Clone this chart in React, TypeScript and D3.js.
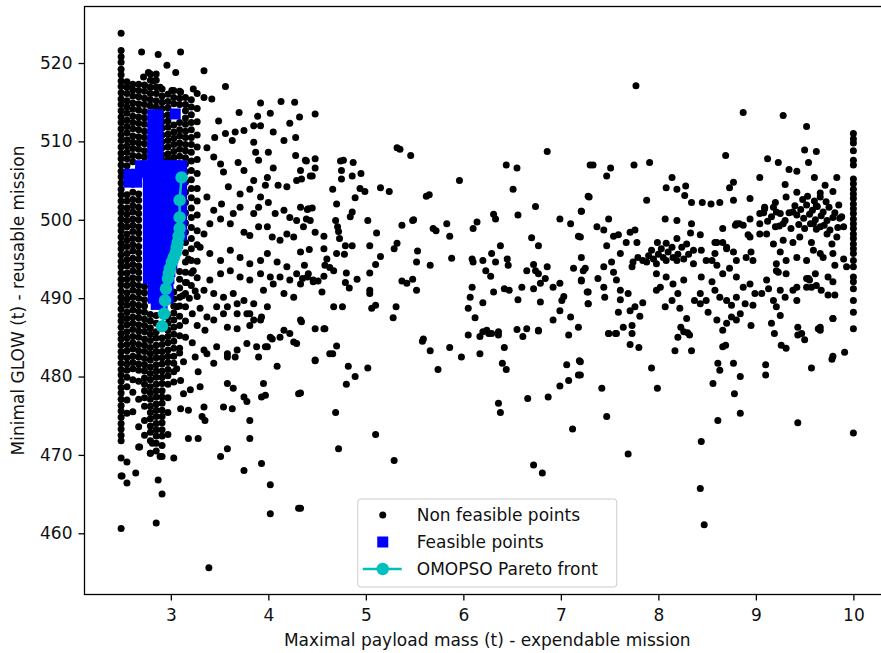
import React, { useEffect, useRef } from 'react';
import * as d3 from 'd3';

type Pt = [number, number];

const xTicks = [3, 4, 5, 6, 7, 8, 9, 10];
const yTicks = [460, 470, 480, 490, 500, 510, 520];
const xLabel = 'Maximal payload mass (t) - expendable mission';
const yLabel = 'Minimal GLOW (t) - reusable mission';
const legendLabels = ['Non feasible points', 'Feasible points', 'OMOPSO Pareto front'];

// dense columns of non feasible points close to the lower payload bound
const coreX = [2.49, 2.55, 2.61, 2.67, 2.73, 2.79, 2.85, 2.91, 2.97, 3.03, 3.09, 3.15, 3.21, 3.27];
const coreY: number[][] = [
  [523.8, 521.6, 520.8, 520.1, 519.2, 518.5, 517.7, 517.0, 516.2, 515.4, 514.7, 513.9, 513.1, 512.4, 511.6, 510.8, 510.1, 509.3, 508.5, 507.8, 507.0, 506.2, 505.5, 504.7, 503.9, 503.2, 502.4, 501.6, 500.9, 500.1, 499.3, 498.6, 497.8, 497.0, 496.3, 495.5, 494.7, 494.0, 493.2, 492.4, 491.7, 490.9, 490.1, 489.4, 488.6, 487.8, 487.1, 486.3, 485.5, 484.8, 484.0, 483.2, 482.5, 481.7, 480.9, 480.2, 479.4, 478.6, 477.9, 477.1, 476.3, 475.6, 474.8, 474.0, 473.3, 472.5, 471.8, 469.6, 467.3, 460.6],
  [517.6, 516.9, 516.1, 515.2, 514.4, 513.6, 512.7, 511.9, 511.1, 510.2, 509.4, 508.6, 507.8, 506.9, 503.2, 502.4, 501.5, 500.7, 499.9, 499.1, 498.2, 497.4, 496.6, 495.7, 494.9, 494.1, 493.2, 492.4, 491.6, 490.7, 489.9, 489.1, 488.2, 487.4, 486.6, 485.7, 484.9, 484.1, 483.3, 482.4, 481.6, 480.8, 479.9, 478.7, 477.0, 475.3, 469.1, 466.4],
  [517.3, 516.6, 515.8, 514.9, 514.1, 513.2, 512.4, 511.6, 510.7, 509.9, 509.1, 508.2, 507.4, 503.5, 502.6, 501.8, 501.0, 500.1, 499.3, 498.5, 497.6, 496.8, 496.0, 495.1, 494.3, 493.5, 492.6, 491.8, 491.0, 490.1, 489.3, 488.5, 487.6, 486.8, 486.0, 485.1, 484.3, 483.5, 482.6, 481.8, 481.0, 479.6, 478.0, 475.5],
  [517.3, 516.5, 515.7, 514.8, 514.0, 513.1, 512.3, 511.5, 510.6, 509.8, 509.0, 508.1, 503.3, 502.5, 501.6, 500.8, 500.0, 499.1, 498.3, 497.5, 496.6, 495.8, 495.0, 494.1, 493.3, 492.5, 491.6, 490.8, 490.0, 489.1, 488.3, 487.5, 486.6, 485.8, 485.0, 484.1, 483.3, 482.5, 481.6, 480.8, 479.4, 477.1, 473.6, 471.0],
  [517.2, 516.4, 515.5, 514.7, 513.8, 513.0, 512.2, 511.3, 510.5, 509.7, 508.8, 508.0, 491.5, 490.7, 489.8, 489.0, 488.2, 487.3, 486.5, 485.7, 484.8, 484.0, 483.2, 482.3, 481.5, 480.7, 479.8, 479.0, 478.2, 477.3, 476.2, 474.4, 472.5],
  [518.6, 517.8, 516.9, 516.1, 515.3, 514.5, 487.9, 487.1, 486.2, 485.4, 484.6, 483.7, 482.9, 482.1, 481.2, 480.4, 479.6, 478.7, 477.9, 477.1, 476.2, 475.4, 474.6, 473.7, 472.9, 471.8, 470.2],
  [518.6, 517.8, 516.9, 516.1, 515.2, 514.4, 487.8, 486.8, 485.7, 484.9, 484.0, 483.2, 482.4, 481.5, 480.7, 479.9, 479.0, 478.2, 477.4, 476.5, 475.7, 474.9, 474.0, 473.2, 472.4, 471.5, 470.5],
  [516.7, 515.8, 515.0, 514.2, 513.3, 512.5, 511.7, 510.8, 510.0, 509.2, 508.3, 507.6, 484.9, 484.1, 483.2, 482.4, 481.6, 480.7, 479.9, 479.1, 478.2, 477.4, 476.6, 475.7, 474.9, 474.1, 473.2, 472.4, 471.2, 469.8],
  [516.0, 515.1, 514.3, 513.4, 512.6, 511.8, 510.9, 510.1, 509.3, 508.4, 507.7, 487.6, 486.8, 485.9, 485.1, 484.3, 483.4, 482.6, 481.8, 480.9, 480.1, 479.0, 477.3, 475.4, 472.6],
  [516.5, 515.6, 514.8, 512.1, 511.2, 510.4, 509.6, 508.7, 507.9, 490.8, 489.9, 489.0, 488.1, 487.2, 486.3, 485.4, 484.5, 483.6, 482.6, 481.7, 480.6, 479.3],
  [516.4, 515.5, 514.7, 512.4, 511.5, 510.7, 509.8, 509.0, 508.1, 493.4, 492.4, 491.3, 490.1, 489.0, 487.7, 486.5, 485.2, 483.6],
  [515.6, 514.7, 513.9, 513.0, 512.2, 511.3, 510.5, 509.6, 508.8, 507.9, 507.1, 506.1, 504.8, 503.5, 502.2, 500.9, 499.6, 498.4, 497.1, 495.8, 494.6, 493.3, 492.0, 490.6, 488.9, 487.1],
  [515.3, 514.4, 513.4, 512.4, 511.5, 510.5, 509.6, 508.6, 507.5, 506.3, 505.1, 504.0, 502.8, 501.5, 500.3, 499.0, 497.6, 496.3, 494.8, 493.2, 491.6],
  [514.2, 512.5, 510.8, 509.3, 507.7, 505.9, 504.0, 502.4, 500.6, 498.6, 496.8, 494.7, 492.6, 490.2],
];

// non feasible points sitting on the upper payload bound (x = 10)
const upperBoundY = [511.0, 510.3, 509.8, 508.8, 507.6, 507.0, 505.2, 504.6, 503.9, 503.3, 502.7, 502.0, 501.4, 500.8, 500.1, 499.5, 498.9, 498.2, 497.6, 496.9, 496.3, 495.7, 494.8, 494.0, 492.7, 492.1, 491.2, 489.7, 488.2, 486.1, 472.8];

const nearCore: Pt[] = [
  [2.70, 521.4], [2.87, 521.1], [3.10, 521.4], [2.96, 519.7], [2.77, 518.8], [3.05, 518.8], [2.72, 518.2], [2.82, 517.7], [2.89, 516.9], [3.01, 516.5], [3.10, 516.3], [3.23, 516.7], [3.27, 516.1],
  [3.34, 519.0], [3.56, 517.0], [3.34, 515.6], [3.42, 515.4], [3.92, 514.9], [4.13, 515.1], [4.27, 515.0], [3.70, 513.7], [4.02, 513.6], [3.89, 513.2], [4.32, 513.1], [4.48, 513.5],
  [4.22, 512.3], [4.16, 510.1], [4.28, 510.5], [4.05, 511.2], [3.85, 512.0], [3.92, 512.0], [3.75, 511.4], [3.66, 511.2], [3.63, 510.1], [3.56, 511.0], [3.49, 512.6], [3.45, 510.5],
  [4.00, 508.6], [3.85, 509.9], [3.87, 508.6], [3.90, 507.6], [4.05, 506.6], [4.28, 508.2], [4.39, 507.5], [4.48, 507.8], [4.33, 506.3], [4.43, 505.6], [4.29, 505.0], [4.19, 504.2],
  [4.10, 504.4], [3.99, 505.4], [3.97, 504.4], [3.85, 505.0], [3.81, 503.9], [3.71, 503.3], [3.59, 504.2], [3.54, 506.1], [3.51, 507.1], [3.69, 507.3], [3.75, 506.3], [3.44, 508.0], [3.37, 509.2],
  [4.00, 502.2], [3.92, 502.9], [3.90, 501.6], [3.85, 500.8], [3.71, 501.6], [3.64, 500.8], [3.52, 502.0], [3.44, 501.2], [3.37, 502.9], [4.07, 500.8], [4.16, 501.2], [4.22, 500.3],
  [4.29, 499.9], [4.36, 499.1], [4.43, 499.9], [4.41, 501.4], [4.33, 501.6], [4.48, 498.4], [4.26, 497.8], [4.19, 498.2], [4.12, 497.4], [4.04, 497.8], [3.99, 499.1], [3.90, 499.1],
  [3.81, 498.0], [3.75, 498.4], [3.61, 499.5], [3.51, 500.1], [3.40, 499.5], [3.34, 498.2],
  [3.30, 496.5], [3.40, 495.7], [3.51, 494.8], [3.61, 496.1], [3.71, 495.2], [3.81, 494.4], [3.92, 494.8], [3.99, 495.7], [4.09, 494.6], [4.19, 494.0], [4.29, 493.1], [4.40, 492.7],
  [4.46, 492.3], [4.33, 491.8], [4.22, 492.3], [4.12, 492.7], [4.02, 492.7], [3.92, 493.1], [3.81, 492.3], [3.71, 492.7], [3.61, 493.5], [3.51, 493.1], [3.40, 492.3], [3.34, 491.0],
  [3.44, 490.6], [3.54, 490.1], [3.64, 490.6], [3.75, 489.7], [3.85, 489.3], [3.95, 491.0], [4.05, 491.8], [4.16, 490.6], [4.26, 490.1], [3.99, 488.9], [3.81, 488.0], [3.68, 488.0],
  [3.54, 488.0], [3.44, 487.2], [3.35, 485.9], [3.58, 486.3], [3.68, 486.1], [3.81, 486.5], [3.92, 487.2], [4.16, 485.9], [4.22, 485.5], [4.12, 485.0], [4.04, 484.8], [3.99, 483.8],
  [3.88, 483.8], [3.78, 484.2], [3.68, 483.4], [3.58, 482.9], [3.47, 483.8], [3.37, 482.9], [4.33, 487.2], [4.48, 486.1], [4.29, 484.2], [3.90, 482.5],
  [3.18, 495.0], [3.23, 493.5], [3.16, 492.0], [3.25, 490.9], [3.19, 490.0], [3.12, 490.3], [3.27, 486.5], [3.15, 485.0], [3.22, 484.3], [3.09, 483.0],
  [3.06, 488.9], [3.22, 488.0], [3.30, 488.7], [3.37, 487.6], [3.47, 488.9], [3.58, 488.9], [3.68, 489.3], [3.78, 488.0], [3.85, 487.2], [3.93, 487.6], [4.02, 485.0], [4.26, 484.4],
  [4.34, 487.0], [4.58, 486.1], [4.63, 482.9], [4.48, 482.1], [4.09, 481.3], [3.97, 483.8], [3.58, 482.5], [3.66, 482.5], [3.44, 481.7], [3.34, 483.4], [3.25, 482.5], [3.13, 481.9],
  [3.06, 481.0], [3.10, 479.5], [3.13, 477.8], [3.20, 478.3], [3.28, 480.6], [3.30, 478.7], [3.10, 475.9], [3.18, 475.7], [3.34, 476.1], [3.32, 474.9], [3.35, 474.4], [3.18, 472.1],
  [3.28, 472.1], [3.03, 469.6], [3.58, 479.1], [3.64, 478.5], [3.75, 477.4], [3.78, 476.8], [3.54, 476.1], [3.63, 475.9], [3.81, 474.4], [3.81, 472.1], [3.95, 479.1], [3.97, 477.6],
  [3.93, 477.4], [4.31, 477.8], [3.58, 470.8], [3.51, 469.8], [3.93, 468.9], [3.75, 468.0], [4.02, 466.2], [4.02, 462.5], [4.31, 463.2], [3.39, 455.6],
  [2.68, 471.0], [2.79, 470.2], [2.89, 469.8], [2.87, 466.8], [2.91, 465.0], [2.85, 461.3], [2.81, 471.5], [2.64, 467.7], [2.50, 467.3],
];

const midField: Pt[] = [
  [5.32, 509.2], [5.35, 509.0], [5.46, 508.2], [6.86, 508.7], [7.30, 507.0], [4.38, 507.6], [4.48, 506.6], [4.45, 505.6], [4.34, 505.2],
  [4.74, 507.5], [4.77, 507.6], [4.87, 507.3], [4.75, 506.3], [4.75, 505.2], [4.86, 505.6], [4.95, 505.9], [4.66, 503.9], [4.94, 504.0], [4.99, 503.6], [5.15, 504.1], [5.24, 503.6],
  [5.96, 505.0], [6.44, 507.0], [6.55, 506.6], [6.51, 503.9], [6.74, 501.7], [6.56, 500.6], [5.62, 503.0], [5.65, 503.2],
  [4.89, 502.8], [4.70, 502.0], [4.45, 501.5], [4.40, 501.3], [4.39, 500.1], [4.86, 501.0], [4.84, 500.4], [4.69, 499.9], [4.71, 499.1], [4.72, 498.5], [4.73, 497.6], [5.02, 499.9],
  [5.11, 498.3], [5.37, 499.3], [5.48, 499.9], [5.69, 498.9], [5.72, 498.6], [5.83, 499.5], [5.86, 497.9], [6.14, 499.7], [6.10, 498.9], [6.31, 500.7], [6.33, 500.1],
  [6.70, 497.7], [6.77, 496.7], [6.99, 500.1], [7.10, 499.5], [7.18, 497.9], [7.21, 501.1], [7.29, 502.9],
  [4.57, 497.9], [4.57, 496.3], [4.42, 496.2], [4.33, 495.9], [4.60, 495.0], [4.58, 494.2], [4.67, 493.5], [4.63, 493.9], [4.37, 494.2], [4.35, 492.5],
  [4.79, 496.7], [4.86, 496.7], [4.78, 495.6], [4.70, 495.7], [5.04, 496.7], [5.15, 495.3], [5.10, 494.3], [5.04, 493.2], [4.80, 493.2], [4.79, 492.0], [4.83, 491.3], [4.91, 492.4],
  [5.04, 491.0], [5.04, 490.6], [4.41, 493.1], [4.46, 492.1], [4.51, 492.2], [4.57, 492.8], [4.55, 490.8], [4.57, 486.1], [4.67, 488.9], [4.76, 488.9],
  [5.32, 497.0], [5.29, 496.3], [5.49, 500.0], [5.53, 496.0], [5.52, 494.6], [5.66, 494.2], [5.37, 492.2], [5.42, 491.9], [5.48, 492.4], [5.52, 491.0], [5.31, 488.9], [5.28, 487.5],
  [5.10, 489.1], [5.06, 488.7], [5.88, 495.1],
  [6.09, 495.0], [6.10, 494.6], [6.20, 494.8], [6.29, 495.7], [6.33, 494.6], [6.23, 493.5], [6.28, 492.8], [6.38, 496.7], [6.45, 495.0], [6.46, 494.2], [6.09, 491.4], [6.07, 490.1],
  [6.05, 488.7], [6.12, 487.5], [6.20, 489.4], [6.31, 490.8], [6.42, 491.2], [6.47, 491.0],
  [6.60, 491.4], [6.72, 491.2], [6.56, 489.8], [6.65, 493.5], [6.74, 493.5], [6.77, 493.1], [6.72, 494.3], [6.79, 491.9], [6.86, 494.0], [6.84, 492.5], [6.92, 491.4], [6.99, 491.9],
  [7.03, 490.2], [7.01, 489.7], [7.10, 487.6], [6.99, 488.4], [6.92, 487.2], [6.79, 489.5], [7.18, 486.3],
  [7.08, 485.3], [6.20, 485.7], [6.24, 485.9], [6.29, 485.5], [6.36, 485.7], [6.55, 486.0], [6.65, 486.1], [6.77, 485.9], [6.05, 485.3], [5.59, 484.8],
  [7.13, 493.8], [7.23, 493.5], [7.21, 492.2], [7.27, 490.8], [7.28, 489.3],
  [4.33, 477.9], [4.48, 482.0], [4.66, 482.9], [4.70, 483.9], [4.82, 481.3], [4.89, 480.0], [4.80, 479.0], [5.02, 481.1], [4.69, 475.4], [4.72, 470.8], [5.10, 472.6], [5.29, 469.3], [4.33, 463.2],
  [5.58, 484.5], [5.66, 483.3], [5.86, 483.7], [5.98, 482.5], [5.74, 480.9], [6.17, 485.1], [6.17, 482.9], [6.26, 485.5], [6.36, 485.3], [6.42, 483.7], [6.40, 481.7], [6.44, 480.9],
  [6.61, 485.1], [6.77, 485.8], [6.36, 476.6], [6.38, 475.4], [6.66, 477.2], [6.87, 477.4], [6.99, 478.8], [7.08, 479.5], [7.18, 480.2], [7.19, 482.0], [7.06, 481.5], [7.12, 473.3],
  [6.72, 468.7], [6.81, 467.7],
];

const farField: Pt[] = [
  [7.77, 517.1], [8.87, 513.7], [9.28, 513.3], [9.52, 511.9], [9.50, 508.9], [9.62, 508.7], [9.54, 507.3], [8.69, 508.2],
  [7.33, 507.0], [7.51, 506.6], [7.47, 505.6], [7.75, 507.0], [7.91, 507.3], [7.28, 503.0], [7.21, 501.1], [7.88, 502.5],
  [8.14, 505.4], [8.08, 504.1], [8.19, 503.9], [8.28, 504.3], [8.27, 503.1], [8.34, 502.2], [8.45, 502.2], [8.54, 502.0], [8.63, 502.2], [8.77, 502.5], [8.73, 504.1], [8.77, 504.8],
  [9.04, 505.4], [9.12, 507.8], [9.23, 507.3], [9.34, 506.4], [9.42, 506.2], [9.30, 504.5], [8.94, 502.7], [9.04, 500.8], [9.09, 501.6], [9.21, 501.0],
  [9.60, 505.4], [9.71, 504.4], [9.83, 505.4], [9.79, 503.6], [9.66, 502.9], [9.62, 501.8], [9.42, 503.5], [9.31, 502.9], [9.38, 501.0],
  [8.80, 499.5], [8.87, 499.3], [8.94, 500.1], [9.04, 499.5], [9.09, 501.4], [9.18, 501.6], [9.25, 500.8], [9.28, 499.5], [9.20, 499.1], [9.11, 498.2], [9.04, 498.2], [8.92, 498.1],
  [9.18, 496.9], [9.25, 495.9], [9.28, 497.4], [9.38, 497.1], [9.45, 497.8], [9.57, 497.1], [9.59, 496.1], [9.66, 495.7], [9.78, 496.9], [9.83, 497.8], [9.73, 498.2], [9.90, 499.1],
  [9.88, 500.4], [9.59, 499.5], [9.66, 499.1],
  [9.21, 494.4], [9.31, 494.8], [9.42, 495.2], [9.52, 494.8], [9.69, 495.2], [9.79, 495.7], [9.90, 495.0], [9.93, 494.0], [9.81, 494.2], [9.74, 492.7], [9.61, 493.1], [9.52, 492.5],
  [9.42, 491.4], [9.23, 493.3], [9.54, 492.5], [9.57, 491.4], [9.74, 490.4], [9.81, 490.4], [9.79, 487.4], [9.66, 486.3], [9.43, 486.3], [9.47, 485.5],
  [9.40, 501.8], [9.46, 501.3], [9.52, 501.9], [9.58, 501.2], [9.63, 501.7], [9.69, 501.0], [9.75, 501.6], [9.81, 500.9], [9.42, 500.6], [9.49, 500.2], [9.55, 500.7], [9.61, 500.0],
  [9.67, 500.5], [9.73, 499.9], [9.79, 500.3], [9.44, 499.4], [9.50, 498.9], [9.56, 499.5], [9.62, 498.8], [9.70, 499.3], [9.76, 498.7], [9.34, 500.9], [9.30, 499.9], [9.36, 498.9],
  [9.48, 502.6], [9.60, 502.4], [9.72, 502.3], [9.85, 501.9], [9.86, 500.2], [9.84, 499.0], [9.12, 499.8], [9.16, 500.4], [9.24, 499.2], [9.08, 500.9], [9.20, 502.2], [9.53, 503.0], [9.66, 503.4],
  [7.20, 497.8], [7.21, 495.2], [7.25, 493.8], [7.21, 492.3], [7.28, 490.8], [7.28, 489.3], [7.38, 492.5], [7.44, 491.4], [7.45, 490.1], [7.37, 499.1], [7.44, 498.7], [7.49, 500.1],
  [7.47, 496.7], [7.54, 497.9], [7.59, 498.1], [7.61, 495.7], [7.52, 494.6], [7.44, 494.0], [7.54, 493.3], [7.57, 492.3], [7.61, 491.0], [7.61, 489.8], [7.69, 490.6], [7.59, 488.2],
  [7.71, 488.4], [7.76, 488.9], [7.81, 487.7], [7.73, 486.5], [7.64, 486.3], [7.57, 485.5], [7.49, 485.5], [7.84, 489.4], [7.74, 494.6], [7.73, 494.0], [7.67, 497.1], [7.71, 498.4],
  [7.76, 498.7], [7.78, 497.1],
  [7.79, 495.2], [7.84, 494.8], [7.90, 495.4], [7.95, 495.0], [8.00, 495.6], [8.05, 495.2], [8.10, 495.9], [8.15, 495.2], [8.20, 495.6], [8.26, 495.0], [8.31, 495.6], [8.36, 496.1],
  [7.88, 494.6], [7.98, 494.4], [8.08, 494.8], [8.19, 494.8], [7.93, 496.1], [8.03, 496.3], [8.14, 496.5], [8.24, 496.5], [7.99, 497.1], [8.08, 497.0], [8.19, 497.6], [8.29, 496.9],
  [8.07, 500.1], [8.19, 499.9], [8.34, 499.5], [8.33, 498.3], [8.43, 498.1], [8.58, 497.1], [8.66, 497.1], [8.44, 496.1], [8.36, 494.4], [8.49, 494.8], [8.58, 495.7], [8.70, 496.3],
  [8.77, 495.9], [8.80, 494.8], [8.90, 495.2], [8.97, 494.8], [8.95, 495.9], [8.94, 497.8], [8.83, 499.5], [8.79, 499.3],
  [7.98, 493.1], [8.08, 492.7], [8.15, 491.8], [8.26, 492.3], [8.20, 490.6], [8.14, 489.7], [8.07, 488.9], [7.98, 491.0], [8.02, 491.4], [8.44, 492.7], [8.55, 492.1], [8.58, 491.0],
  [8.63, 490.1], [8.70, 489.7], [8.75, 489.1], [8.60, 494.2], [8.66, 493.1], [8.73, 493.8], [8.80, 492.7], [8.87, 491.4], [8.94, 491.8], [8.99, 490.6], [8.97, 489.1], [8.89, 489.3],
  [8.80, 490.1], [8.84, 488.0], [8.75, 487.6], [8.80, 487.2], [8.70, 486.8], [8.60, 487.2], [8.51, 488.2], [8.43, 489.3], [8.95, 486.5], [9.18, 489.7], [9.25, 491.0], [9.30, 490.1],
  [9.21, 488.9], [9.25, 487.8], [9.16, 486.8], [9.13, 491.2], [9.06, 490.6], [9.11, 492.3], [9.31, 493.1], [9.21, 493.5], [9.38, 491.0], [9.42, 489.7], [9.52, 491.4], [9.55, 492.3],
  [9.62, 491.6], [9.67, 491.0], [9.79, 492.1], [8.66, 498.9], [8.70, 496.5], [8.60, 497.1], [8.55, 494.8], [8.22, 488.7], [8.29, 487.4], [8.23, 486.3], [8.30, 485.6], [8.20, 485.0],
  [8.43, 490.6], [8.49, 489.7], [8.37, 489.7], [9.64, 486.1], [9.79, 487.4], [8.66, 485.9],
  [7.49, 485.5], [7.56, 485.5], [7.73, 485.5], [7.71, 484.1], [7.80, 483.7], [8.17, 483.3], [8.34, 483.3], [8.26, 485.7], [8.32, 485.3], [8.66, 483.8], [8.69, 484.0], [8.61, 481.7],
  [8.63, 480.8], [8.77, 481.7], [8.84, 480.0], [8.56, 479.1], [8.78, 477.8], [8.84, 475.3], [8.61, 474.4], [8.44, 471.7], [8.43, 465.7], [8.47, 461.1], [7.69, 470.1], [7.47, 474.9],
  [7.42, 478.5], [7.99, 478.5], [7.93, 481.1], [7.20, 481.9], [7.20, 480.2], [9.10, 481.5], [9.10, 480.2], [9.19, 485.5], [9.26, 484.0], [9.31, 483.6], [9.43, 485.3], [9.50, 484.7],
  [9.57, 481.1], [9.79, 482.6], [9.78, 482.2], [9.91, 483.1], [9.43, 474.1], [9.66, 485.9],
];

// feasible points, one row of payloads per GLOW level
const feasibleRows: { glow: number; payloads: number[] }[] = [
  { glow: 513.5, payloads: [3.045] },
  { glow: 513.4, payloads: [2.815, 2.866] },
  { glow: 512.5, payloads: [2.815, 2.866] },
  { glow: 511.6, payloads: [2.815, 2.866] },
  { glow: 510.7, payloads: [2.815, 2.866] },
  { glow: 509.8, payloads: [2.815, 2.866] },
  { glow: 508.9, payloads: [2.815, 2.866] },
  { glow: 508.1, payloads: [2.815, 2.866] },
  { glow: 506.9, payloads: [2.69, 2.75, 2.81, 2.87, 2.93, 2.99, 3.05, 3.11] },
  { glow: 506.1, payloads: [2.69, 2.75, 2.81, 2.87, 2.93, 2.99, 3.05, 3.11] },
  { glow: 505.8, payloads: [2.57, 2.65] },
  { glow: 504.8, payloads: [2.57, 2.65] },
  { glow: 505.0, payloads: [2.77, 2.83, 2.89, 2.95, 3.01, 3.07, 3.11] },
  { glow: 504.0, payloads: [2.77, 2.83, 2.89, 2.95, 3.01, 3.07, 3.11] },
  { glow: 503.0, payloads: [2.77, 2.83, 2.89, 2.95, 3.01, 3.07, 3.11] },
  { glow: 502.0, payloads: [2.77, 2.83, 2.89, 2.95, 3.01, 3.07, 3.11] },
  { glow: 501.0, payloads: [2.77, 2.83, 2.89, 2.95, 3.01, 3.07, 3.11] },
  { glow: 500.0, payloads: [2.77, 2.83, 2.89, 2.95, 3.01, 3.07, 3.11] },
  { glow: 499.0, payloads: [2.77, 2.83, 2.89, 2.95, 3.01, 3.07, 3.11] },
  { glow: 498.0, payloads: [2.77, 2.83, 2.89, 2.95, 3.01, 3.07, 3.11] },
  { glow: 497.0, payloads: [2.77, 2.83, 2.89, 2.95, 3.01, 3.07] },
  { glow: 496.1, payloads: [2.77, 2.83, 2.89, 2.95, 3.02] },
  { glow: 495.2, payloads: [2.77, 2.83, 2.89, 2.95, 3.02] },
  { glow: 494.3, payloads: [2.77, 2.83, 2.89, 2.95, 3.01] },
  { glow: 493.4, payloads: [2.77, 2.83, 2.89, 2.95, 2.99] },
  { glow: 492.5, payloads: [2.77, 2.83, 2.89, 2.95, 2.98] },
  { glow: 491.6, payloads: [2.82, 2.88, 2.94, 2.97] },
  { glow: 490.8, payloads: [2.82, 2.88, 2.94, 2.97] },
  { glow: 490.0, payloads: [2.82, 2.88, 2.94, 2.97] },
  { glow: 489.2, payloads: [2.85, 2.91] },
];

const paretoPayload = [2.91, 2.93, 2.94, 2.95, 2.97, 2.98, 2.99, 3.01, 3.03, 3.05, 3.06, 3.07, 3.08, 3.09, 3.09, 3.09, 3.11];
const paretoGlow = [486.4, 488.0, 489.7, 491.2, 492.5, 493.2, 493.8, 494.6, 495.2, 495.8, 496.5, 497.1, 497.9, 498.9, 500.3, 502.5, 505.4];

const FONT = 'DejaVu Sans, sans-serif';

export default function App() {
  const svgRef = useRef<SVGSVGElement>(null);

  useEffect(() => {
    const svg = d3.select(svgRef.current);
    svg.selectAll('*').remove();

    const width = 881;
    const height = 653;
    const plot = { left: 84.5, right: 890, top: 6.5, bottom: 594.5 };

    const nonFeasible: Pt[] = [
      ...coreX.flatMap((x, i) => coreY[i].map((y) => [x, y] as Pt)),
      ...upperBoundY.map((y) => [10, y] as Pt),
      ...nearCore,
      ...midField,
      ...farField,
    ];
    const feasible: Pt[] = feasibleRows.flatMap((r) => r.payloads.map((x) => [x, r.glow] as Pt));
    const pareto: Pt[] = paretoPayload.map((x, i) => [x, paretoGlow[i]] as Pt);

    const all = [...nonFeasible, ...feasible, ...pareto];
    const [xMin, xMax] = d3.extent(all, (d) => d[0]) as [number, number];
    const [yMin, yMax] = d3.extent(all, (d) => d[1]) as [number, number];
    const xPad = (xMax - xMin) * 0.05;
    const yPad = (yMax - yMin) * 0.05;

    const x = d3.scaleLinear().domain([xMin - xPad, xMax + xPad]).range([plot.left, plot.right]);
    const y = d3.scaleLinear().domain([yMin - yPad, yMax + yPad]).range([plot.bottom, plot.top]);

    svg.attr('width', width).attr('height', height);
    svg.append('rect').attr('width', width).attr('height', height).attr('fill', 'white');

    const marks = svg.append('g');

    marks.selectAll('circle.nf')
      .data(nonFeasible)
      .enter()
      .append('circle')
      .attr('class', 'nf')
      .attr('cx', (d) => x(d[0]))
      .attr('cy', (d) => y(d[1]))
      .attr('r', 3.5)
      .attr('fill', '#000');

    const sq = 11;
    marks.selectAll('rect.fe')
      .data(feasible)
      .enter()
      .append('rect')
      .attr('class', 'fe')
      .attr('x', (d) => x(d[0]) - sq / 2)
      .attr('y', (d) => y(d[1]) - sq / 2)
      .attr('width', sq)
      .attr('height', sq)
      .attr('fill', '#0000ff');

    const cyan = '#00bfbf';
    const line = d3.line<Pt>().x((d) => x(d[0])).y((d) => y(d[1]));
    marks.append('path')
      .datum(pareto)
      .attr('d', line)
      .attr('fill', 'none')
      .attr('stroke', cyan)
      .attr('stroke-width', 2.5);
    marks.selectAll('circle.pf')
      .data(pareto)
      .enter()
      .append('circle')
      .attr('class', 'pf')
      .attr('cx', (d) => x(d[0]))
      .attr('cy', (d) => y(d[1]))
      .attr('r', 6.2)
      .attr('fill', cyan);

    // frame
    svg.append('rect')
      .attr('x', plot.left)
      .attr('y', plot.top)
      .attr('width', plot.right - plot.left)
      .attr('height', plot.bottom - plot.top)
      .attr('fill', 'none')
      .attr('stroke', '#000')
      .attr('stroke-width', 1.3);

    const xAxis = svg.append('g')
      .attr('transform', `translate(0,${plot.bottom})`)
      .call(d3.axisBottom(x).tickValues(xTicks).tickFormat(d3.format('d')).tickSize(6).tickPadding(8));
    const yAxis = svg.append('g')
      .attr('transform', `translate(${plot.left},0)`)
      .call(d3.axisLeft(y).tickValues(yTicks).tickFormat(d3.format('d')).tickSize(6).tickPadding(6));
    [xAxis, yAxis].forEach((a) => {
      a.select('.domain').remove();
      a.selectAll('line').attr('stroke', '#000').attr('stroke-width', 1.3);
      a.selectAll('text').attr('font-family', FONT).attr('font-size', 17).attr('fill', '#111');
    });

    svg.append('text')
      .attr('x', (plot.left + plot.right) / 2)
      .attr('y', 646)
      .attr('text-anchor', 'middle')
      .attr('font-family', FONT)
      .attr('font-size', 17)
      .attr('fill', '#111')
      .text(xLabel);

    svg.append('text')
      .attr('transform', `translate(24,${(plot.top + plot.bottom) / 2}) rotate(-90)`)
      .attr('text-anchor', 'middle')
      .attr('font-family', FONT)
      .attr('font-size', 17)
      .attr('fill', '#111')
      .text(yLabel);

    // legend, lower center of the axes
    const lw = 259;
    const lh = 88;
    const lx = (plot.left + plot.right) / 2 - lw / 2;
    const ly = plot.bottom - 7.5 - lh;
    const lg = svg.append('g').attr('transform', `translate(${lx},${ly})`);
    lg.append('rect')
      .attr('width', lw)
      .attr('height', lh)
      .attr('rx', 3)
      .attr('fill', 'white')
      .attr('fill-opacity', 0.8)
      .attr('stroke', '#cccccc');
    const rowY = [16, 43, 70];
    const hx = 25;
    lg.append('circle').attr('cx', hx).attr('cy', rowY[0]).attr('r', 3.5).attr('fill', '#000');
    lg.append('rect').attr('x', hx - sq / 2).attr('y', rowY[1] - sq / 2).attr('width', sq).attr('height', sq).attr('fill', '#0000ff');
    lg.append('line').attr('x1', 5).attr('x2', 44).attr('y1', rowY[2]).attr('y2', rowY[2]).attr('stroke', cyan).attr('stroke-width', 2.5);
    lg.append('circle').attr('cx', hx).attr('cy', rowY[2]).attr('r', 6.2).attr('fill', cyan);
    legendLabels.forEach((label, i) => {
      lg.append('text')
        .attr('x', 59)
        .attr('y', rowY[i] + 6)
        .attr('font-family', FONT)
        .attr('font-size', 17)
        .attr('fill', '#111')
        .text(label);
    });
  }, []);

  return (
    <svg
      ref={svgRef}
      style={{ position: 'absolute', left: 0, top: 0, display: 'block' }}
    />
  );
}
